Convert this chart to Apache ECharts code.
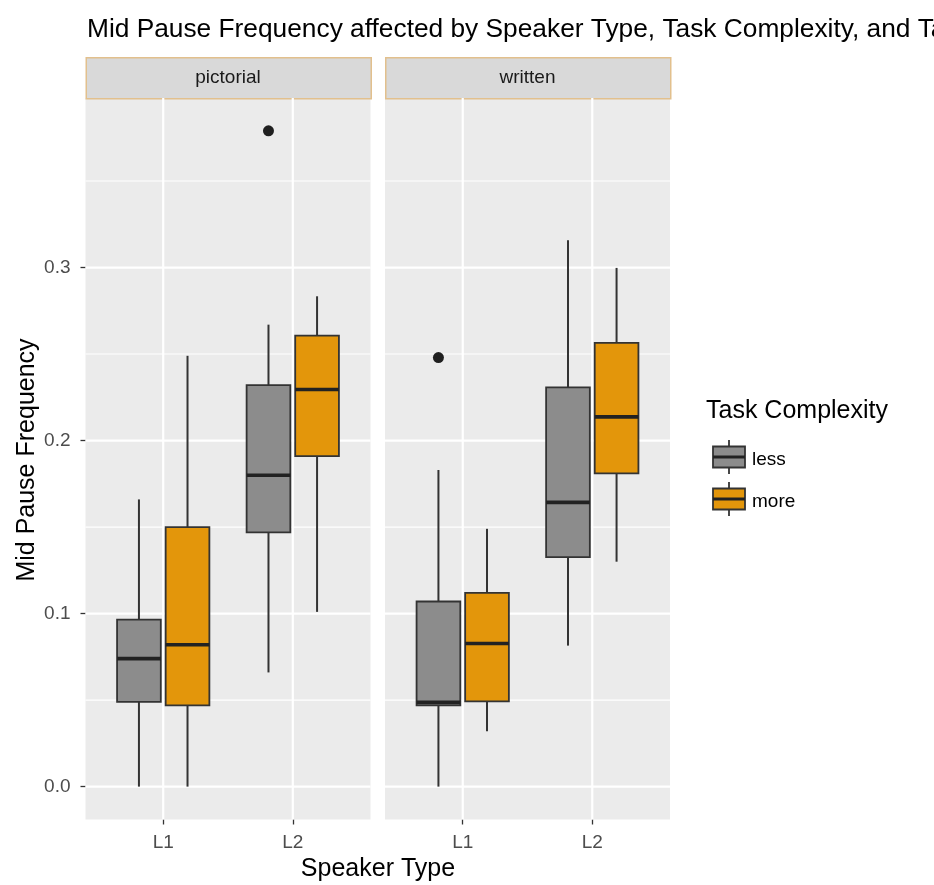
<!DOCTYPE html>
<html>
<head>
<meta charset="utf-8">
<script src="https://cdn.jsdelivr.net/npm/echarts@6/dist/echarts.min.js"></script>
<style>
html,body{margin:0;padding:0;background:#fff;}
#chart{width:934px;height:885px;}
</style>
</head>
<body>
<div id="chart"></div>
<script>
// ---------------- data ----------------
const facets = ['pictorial', 'written'];
const speakerTypes = ['L1', 'L2'];
const complexities = ['less', 'more'];
// each row: [min, q1, median, q3, max] for L1, L2
const pictorialLess = [[0.000, 0.049, 0.074, 0.0965, 0.166], [0.066, 0.147, 0.180, 0.232, 0.267]];
const pictorialMore = [[0.000, 0.047, 0.082, 0.150, 0.249], [0.101, 0.191, 0.2295, 0.2607, 0.2834]];
const writtenLess   = [[0.000, 0.047, 0.0487, 0.107, 0.183], [0.0815, 0.1326, 0.1643, 0.2308, 0.3158]];
const writtenMore   = [[0.032, 0.0493, 0.0827, 0.112, 0.149], [0.130, 0.181, 0.2137, 0.2565, 0.2998]];
// outliers: [speakerIndex, complexityIndex, value]
const pictorialOutliers = [[1, 0, 0.379]];
const writtenOutliers   = [[0, 0, 0.248]];
const yTicks = [0, 0.1, 0.2, 0.3];
const yMinorBreaks = [0.05, 0.15, 0.25, 0.35];
const title = 'Mid Pause Frequency affected by Speaker Type, Task Complexity, and Task Type';
const yTitle = 'Mid Pause Frequency';
const xTitle = 'Speaker Type';
const legendTitle = 'Task Complexity';

// ---------------- style ----------------
const FONT = 'Liberation Sans, Arial, Helvetica, sans-serif';
const fills = ['#8C8C8C', '#E3960B'];
const lineCol = '#333333';
const dodge = 0.1875, boxW = 0.3375;
const panelTop = 98, panelH = 721.5, panelW = 285;
const panelLefts = [85.5, 385];
const yMin = -0.019, yMax = 0.398;

const boxData = [[pictorialLess, pictorialMore], [writtenLess, writtenMore]];
const outData = [pictorialOutliers, writtenOutliers];

const chart = echarts.init(document.getElementById('chart'), null, {renderer: 'canvas'});

const grids = [], xAxes = [], yAxes = [], series = [];
facets.forEach((f, i) => {
  grids.push({left: panelLefts[i], top: panelTop, width: panelW, height: panelH,
    show: true, backgroundColor: '#EBEBEB', borderWidth: 0});
  xAxes.push({type: 'value', gridIndex: i, min: 0.4, max: 2.6, position: 'bottom',
    axisLine: {show: false, onZero: false}, splitLine: {show: false}, minorSplitLine: {show: false},
    axisTick: {show: true, customValues: [1, 2], length: 5, lineStyle: {color: lineCol, width: 1.3}},
    axisLabel: {show: true, customValues: [1, 2], margin: 14, color: '#4D4D4D', fontSize: 19, fontFamily: FONT,
      formatter: v => speakerTypes[Math.round(v) - 1] || ''}});
  yAxes.push({type: 'value', gridIndex: i, min: yMin, max: yMax, show: i === 0, position: 'left',
    axisLine: {show: false, onZero: false}, splitLine: {show: false}, minorSplitLine: {show: false},
    axisTick: {show: i === 0, customValues: yTicks, length: 5, lineStyle: {color: lineCol, width: 1.3}},
    axisLabel: {show: i === 0, customValues: yTicks, margin: 15, color: '#4D4D4D', fontSize: 19, fontFamily: FONT,
      formatter: v => v.toFixed(1)}});

  // grid lines
  const gl = [];
  yMinorBreaks.forEach(v => gl.push([0, v, 0]));
  yTicks.forEach(v => gl.push([0, v, 1]));
  [1, 2].forEach(v => gl.push([1, v, 1]));
  series.push({type: 'custom', xAxisIndex: i, yAxisIndex: i, z: 1, silent: true, data: gl,
    encode: {x: -1, y: -1},
    renderItem: (params, api) => {
      const cs = params.coordSys;
      const orient = api.value(0), v = api.value(1), major = api.value(2);
      let shape;
      if (orient === 0) {
        const p = api.coord([1, v]);
        shape = {x1: cs.x, y1: p[1], x2: cs.x + cs.width, y2: p[1]};
      } else {
        const p = api.coord([v, 0]);
        shape = {x1: p[0], y1: cs.y, x2: p[0], y2: cs.y + cs.height};
      }
      return {type: 'line', shape, style: {stroke: '#FFFFFF', lineWidth: major ? 2.2 : 1.1}};
    }});

  // boxes
  complexities.forEach((c, k) => {
    const rows = boxData[i][k].map((r, s) => [s + 1 + (k === 0 ? -dodge : dodge)].concat(r));
    series.push({type: 'custom', name: c, xAxisIndex: i, yAxisIndex: i, z: 2, data: rows,
      encode: {x: 0, y: [1, 2, 3, 4, 5]},
      renderItem: (params, api) => {
        const x = api.value(0);
        const pMin = api.coord([x, api.value(1)]);
        const pQ1 = api.coord([x, api.value(2)]);
        const pMed = api.coord([x, api.value(3)]);
        const pQ3 = api.coord([x, api.value(4)]);
        const pMax = api.coord([x, api.value(5)]);
        const w = api.size([boxW, 0])[0];
        const cx = pMed[0];
        return {type: 'group', children: [
          {type: 'line', shape: {x1: cx, y1: pMax[1], x2: cx, y2: pQ3[1]}, style: {stroke: lineCol, lineWidth: 2}},
          {type: 'line', shape: {x1: cx, y1: pQ1[1], x2: cx, y2: pMin[1]}, style: {stroke: lineCol, lineWidth: 2}},
          {type: 'rect', shape: {x: cx - w / 2, y: pQ3[1], width: w, height: pQ1[1] - pQ3[1]},
            style: {fill: fills[k], stroke: lineCol, lineWidth: 1.8}},
          {type: 'line', shape: {x1: cx - w / 2, y1: pMed[1], x2: cx + w / 2, y2: pMed[1]},
            style: {stroke: '#222222', lineWidth: 3.6}}
        ]};
      }});
  });

  // outliers
  series.push({type: 'scatter', xAxisIndex: i, yAxisIndex: i, z: 3, symbolSize: 11,
    itemStyle: {color: '#1F1F1F', opacity: 1},
    data: outData[i].map(o => [o[0] + 1 + (o[1] === 0 ? -dodge : dodge), o[2]])});
});

// strips, titles, legend as graphic
const graphic = [];
facets.forEach((f, i) => {
  graphic.push({type: 'rect', left: panelLefts[i], top: 57, shape: {width: panelW, height: 41},
    style: {fill: '#D9D9D9', stroke: '#E2C08D', lineWidth: 1.5}});
  graphic.push({type: 'text', x: panelLefts[i] + panelW / 2, y: 78,
    style: {text: f, fill: '#1A1A1A', font: '19px ' + FONT, textAlign: 'center', textVerticalAlign: 'middle'}});
});
graphic.push({type: 'text', x: 87, y: 30,
  style: {text: title, fill: '#000', font: '26.3px ' + FONT, textAlign: 'left', textVerticalAlign: 'middle'}});
graphic.push({type: 'text', x: 378, y: 869,
  style: {text: xTitle, fill: '#000', font: '25px ' + FONT, textAlign: 'center', textVerticalAlign: 'middle'}});
graphic.push({type: 'text', x: 27, y: 460, rotation: Math.PI / 2,
  style: {text: yTitle, fill: '#000', font: '25px ' + FONT, textAlign: 'center', textVerticalAlign: 'middle'}});
graphic.push({type: 'text', x: 706, y: 411,
  style: {text: legendTitle, fill: '#000', font: '25px ' + FONT, textAlign: 'left', textVerticalAlign: 'middle'}});
const keyCenters = [457, 499];
complexities.forEach((c, k) => {
  const cy = keyCenters[k], cx = 729;
  graphic.push({type: 'line', shape: {x1: cx, y1: cy - 17, x2: cx, y2: cy + 17}, style: {stroke: lineCol, lineWidth: 1.8}});
  graphic.push({type: 'rect', shape: {x: 713, y: cy - 10.5, width: 32, height: 21},
    style: {fill: fills[k], stroke: lineCol, lineWidth: 1.8}});
  graphic.push({type: 'line', shape: {x1: 713, y1: cy, x2: 745, y2: cy}, style: {stroke: '#222222', lineWidth: 3}});
  graphic.push({type: 'text', x: 752, y: cy + 3,
    style: {text: c, fill: '#000', font: '19px ' + FONT, textAlign: 'left', textVerticalAlign: 'middle'}});
});

chart.setOption({
  backgroundColor: '#FFFFFF',
  animation: false,
  grid: grids, xAxis: xAxes, yAxis: yAxes, series, graphic
});
</script>
</body>
</html>
